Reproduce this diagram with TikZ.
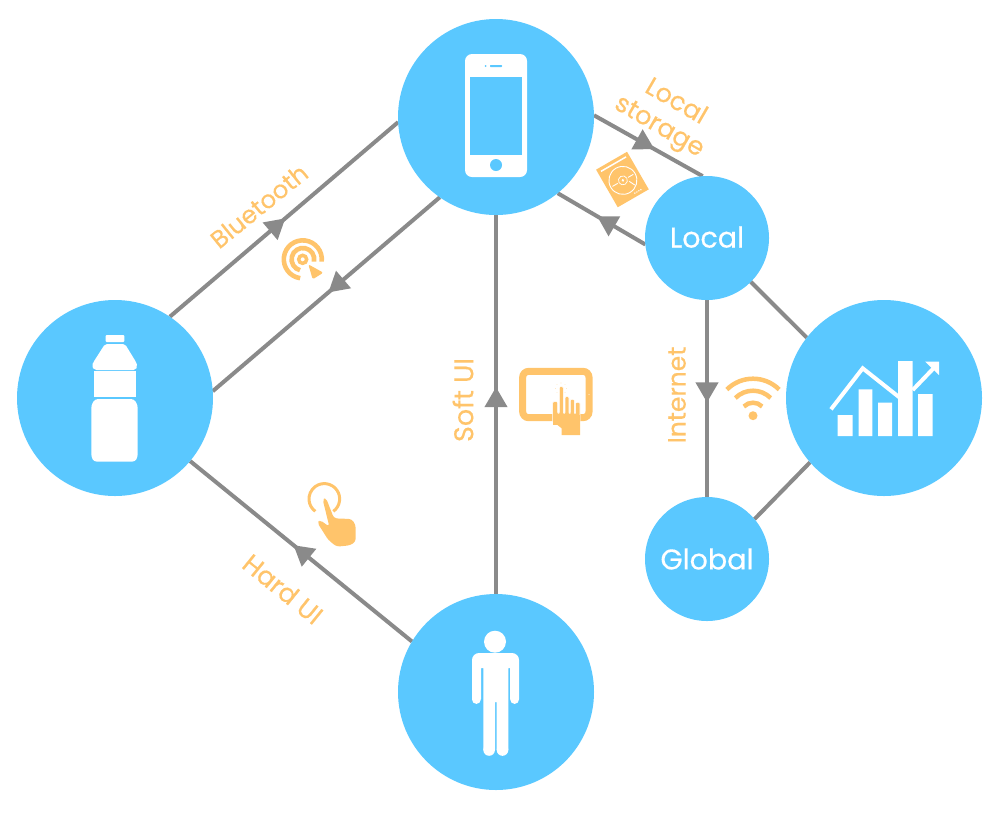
\documentclass[tikz,border=0pt]{standalone}
\usepackage{fontspec}
\setmainfont{Poppins}
\newfontfamily\heavyfont[FakeBold=0.4]{Poppins}
\usetikzlibrary{arrows.meta,decorations.markings,backgrounds,calc}
\definecolor{hubblue}{HTML}{5AC8FF}
\definecolor{labelorange}{HTML}{FFC46B}
\definecolor{linegray}{HTML}{8A8A8A}
\tikzset{
  hub/.style={circle,fill=hubblue,inner sep=0pt,outer sep=0pt,minimum size=#1},
  hubtext/.style={text=white,font=\heavyfont\fontsize{28.5}{28.5}\selectfont},
  lab/.style={text=labelorange,font=\heavyfont\fontsize{#1}{#1}\selectfont,inner sep=0pt,align=center},
  conn/.style={draw=linegray,line width=4pt},
  tipat/.style={postaction={decorate},decoration={markings,mark=at position #1 with {\arrow[linegray]{Triangle[length=20pt,width=22pt]}}}},
  wfill/.style={fill=white,draw=none},
  oline/.style={draw=labelorange,fill=none,line width=#1},
}
\begin{document}
\begin{tikzpicture}[x=1pt,y=-1pt]
\useasboundingbox (0,0) rectangle (1000,831);
\node[hub=196pt] (phone) at (496,117) {};
\node[hub=196pt] (bottle) at (115,398) {};
\node[hub=196pt] (person) at (496,692) {};
\node[hub=196pt] (chart) at (884,398) {};
\node[hub=124pt,hubtext] (local) at (707,238) {\raisebox{2pt}{Local}};
\node[hub=124pt,hubtext] (global) at (707,559) {Global};
\begin{pgfonlayer}{background}
\draw[conn,tipat=0.506] (bottle.56.8) -- (phone.183.5);
\draw[conn,tipat=0.491] (phone.235.5) -- (bottle.4);
\draw[conn,tipat=0.556] (phone.1.2) -- (local.94.8);
\draw[conn,tipat=0.55] (local.186.5) -- (phone.-51.2);
\draw[conn,tipat=0.52] (local.south) -- (global.north);
\draw[conn,tipat=0.546] (person.north) -- (phone.south);
\draw[conn,tipat=0.534] (person.149.7) -- (bottle.-40.4);
\draw[conn] (local.-45) -- (chart.142.5);
\draw[conn] (chart.221.7) -- (global.40.4);
\end{pgfonlayer}
% labels
\node[lab=24.5,rotate=39] (lblue) at (259,206) {Bluetooth};
\node[lab=25.5,rotate=-30] (lstore1) at (677,100) {Local};
\node[lab=25.5,rotate=-30] (lstore2) at (658.5,128) {storage};
\node[lab=25,rotate=90] (lnet) at (677,395) {Internet};
\node[lab=27,rotate=90] (lsoft) at (463,400) {Soft UI};
\node[lab=26,rotate=-39] (lhard) at (283,589) {Hard UI};
% phone icon
\fill[wfill,rounded corners=7pt] (465,54) rectangle (527,177);
\fill[hubblue] (470,77) rectangle (522,155);
\fill[hubblue] (496,165) circle (6);
\fill[hubblue,rounded corners=.7pt] (490,65) rectangle (502,67);
\fill[hubblue] (485.5,66) circle (1);
% bottle icon
\fill[wfill,rounded corners=1pt] (105.7,335) rectangle (124.3,342);
\fill[wfill,rounded corners=2pt] (105,344) -- (125,344) -- (136,362) -- (137.5,366) -- (135.7,370) -- (94.3,370) -- (91.7,366) -- (93.5,362) -- cycle;
\fill[wfill] (94.3,371) rectangle (135.7,397.3);
\fill[wfill,rounded corners=3pt] (95,399) -- (134,399) -- (137.7,405) -- (137.7,457) -- (135,461.7) -- (94,461.7) -- (91.3,457) -- (91.3,405) -- cycle;
% person icon
\fill[white] (495,641.7) circle (11);
\fill[wfill,rounded corners=7pt] (472,700) -- (472,653) -- (519,653) -- (519,700) [sharp corners] -- (519,699) -- (510,699) -- (510,668) -- (508.3,668) -- (508.3,750) -- (496.7,750) -- (496.7,702) -- (495,702) -- (495,750) -- (483.3,750) -- (483.3,668) -- (481,668) -- (481,699) -- (472,699) -- cycle;
\fill[white] (476.4,699.5) circle (4.4) (514.6,699.5) circle (4.4) (489.1,750) circle (5.8) (502.5,750) circle (5.8);
% chart icon
\fill[white] (837.7,415) rectangle (852.7,436) (858.7,389.3) rectangle (872.3,436) (878,402.7) rectangle (892,436) (898,361) rectangle (912.7,436) (918,394) rectangle (932.7,436);
\draw[white,line width=4pt] (831,409.3) -- (862.7,368.3) -- (899.3,397.3);
\draw[white,line width=4pt] (912.7,390) -- (936.7,365);
\fill[white] (925,361.5) -- (939,361.5) -- (939,375) -- cycle;
% wifi icon
\fill[labelorange] (753,415.7) circle (4.5);
\foreach \r in {13,25,37}{\draw[oline=4.5pt] ([shift={(-45:\r)}]753,415.7) arc[start angle=-45,end angle=-135,radius=\r];}
% tablet icon
\begin{scope}[shift={(500,350)},scale=1/3]
\draw[oline=7pt,rounded corners=6pt] (68,64) rectangle (267,203);
\fill[white] (267,133) circle (1.5);
\fill[labelorange] (160,190) -- (160,215) -- (185,235) -- (185,255) -- (240,255) -- (240,190) -- cycle;
\fill[labelorange,draw=white,line width=.6pt,rounded corners=1pt] (158,215) -- (158,155) -- (173,155) -- (173,190) -- (178,190) -- (178,110) -- (190,110) -- (190,190) -- (195,190) -- (195,140) -- (207,140) -- (207,190) -- (211,190) -- (211,148) -- (223,148) -- (223,190) -- (227,190) -- (227,157) -- (240,157) -- (240,215) -- cycle;
\fill[labelorange] (159,195) rectangle (239.5,225);
\foreach \a in {0,45,...,315}{\fill[labelorange] ($(183,116)+(\a:17)$) circle (0.9);}
\end{scope}
% touch icon
\begin{scope}[shift={(230,470)},scale=1/3]
\draw[oline=3pt] (310,124) arc[start angle=54,end angle=-234,radius=46];
\fill[labelorange,rounded corners=3pt] (278,88) -- (288,84) -- (312,145) -- (365,147) -- (377,165) -- (377,215) -- (360,226) -- (320,230) -- (295,210) -- (262,158) -- (270,150) -- (298,170) -- cycle;
\end{scope}
% target icon
\begin{scope}[shift={(200,150)},scale=1/3]
\draw[oline=4.6pt] (365,335) arc[start angle=7,end angle=-262,radius=57];
\draw[oline=4.6pt] (342,335) arc[start angle=12,end angle=-255,radius=34];
\draw[oline=3.5pt] (308,328) circle (12);
\fill[labelorange,rounded corners=2pt] (325,343) -- (370,368) -- (338,388) -- cycle;
\end{scope}
% disk icon
\begin{scope}[shift={(622.4,179.5)},rotate=30]
\fill[labelorange] (-17.9,-21.7) rectangle (17.9,21.7);
\fill[white] (-14.5,-18.5) rectangle (14.5,-17);
\draw[white,line width=.9pt] (0,1) circle (14);
\draw[white,line width=.7pt] (0,1) circle (4.5);
\fill[white] (0,1) circle (1.4);
\draw[white,line width=.9pt] (-12,1) -- (-6,1) (6,1) -- (12,1) (5,5) -- (8,11);
\foreach \i in {0,1,2,3}{\fill[white] (4+2.3*\i,18) circle (.8);}
\end{scope}
\end{tikzpicture}
\end{document}
